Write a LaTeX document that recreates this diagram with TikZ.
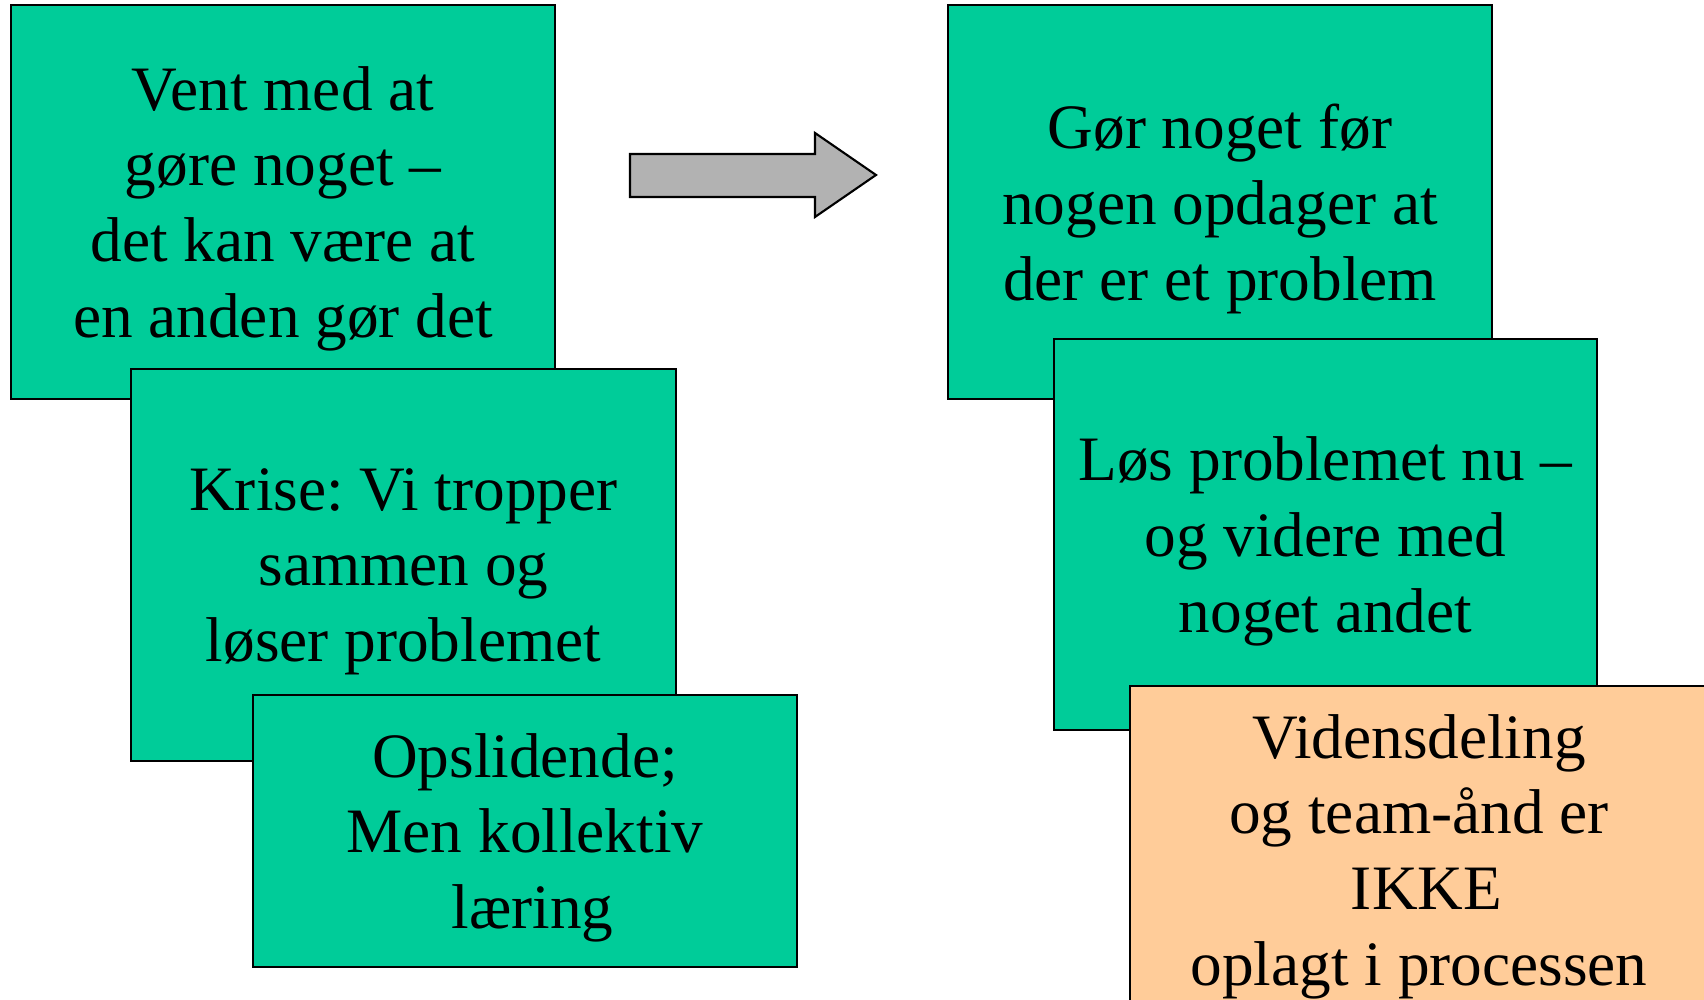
\documentclass[tikz,border=0pt]{standalone}
\usepackage{fontspec}
\setmainfont{Liberation Serif}
\frenchspacing
\definecolor{kasse}{RGB}{0,204,153}
\definecolor{fersken}{RGB}{255,204,153}
\definecolor{pil}{RGB}{178,178,178}
\tikzset{
  kort/.style={draw=black, line width=0.6pt, fill=kasse, align=center, inner sep=0pt,
    text depth=-1.8pt, font=\fontsize{18}{21.6}\selectfont, text=black},
}
\begin{document}
\begin{tikzpicture}
			\useasboundingbox (0,0) rectangle (17.04,10);
			\clip (0,0) rectangle (17.04,10);
			% venstre side
			\node[kort, minimum width=5.44cm, minimum height=3.94cm] (vent) at (2.83,7.98) {Vent med at\\gøre noget --\\det kan være at\\en anden gør det};
			\node[kort, minimum width=5.45cm, minimum height=3.92cm] (krise) at (4.035,4.35) {Krise: Vi tropper\\sammen og\\løser problemet};
			\node[kort, minimum width=5.44cm, minimum height=2.72cm] (opslid) at (5.25,1.69) {Opslidende;\\Men kollektiv\\\hspace*{0.15cm}læring};
			% pil
			\draw[fill=pil, line width=0.6pt, line join=miter] (6.30,8.46) -- (8.15,8.46) -- (8.15,8.67) -- (8.76,8.25) -- (8.15,7.83) -- (8.15,8.03) -- (6.30,8.03) -- cycle;
			% hoejre side
			\node[kort, minimum width=5.44cm, minimum height=3.94cm] (goer) at (12.20,7.98) {Gør noget før\\nogen opdager at\\der er et problem};
			\node[kort, minimum width=5.43cm, minimum height=3.91cm] (loes) at (13.255,4.655) {Løs problemet nu --\\og videre med\\noget andet};
			\node[kort, fill=fersken, minimum width=5.78cm, minimum height=3.28cm] (viden) at (14.19,1.50) {Vidensdeling\\og team-ånd er\\\hspace*{0.15cm}IKKE\\oplagt i processen};
		\end{tikzpicture}
\end{document}
